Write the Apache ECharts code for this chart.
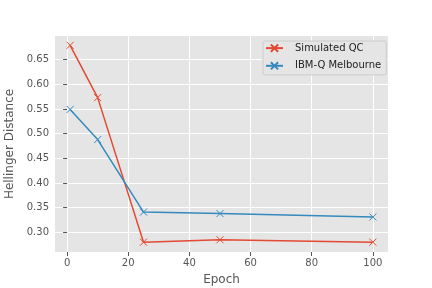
<!DOCTYPE html>
<html>
<head>
<meta charset="utf-8">
<script src="https://cdn.jsdelivr.net/npm/echarts@6/dist/echarts.min.js"></script>
<style>html,body{margin:0;padding:0;background:#fff}#c{width:432px;height:288px}</style>
</head>
<body>
<div id="c"></div>
<script>
const epochs = [1, 10, 25, 50, 100];
const simulatedQC = [0.679, 0.573, 0.280, 0.285, 0.280];
const ibmMelbourne = [0.549, 0.488, 0.341, 0.338, 0.331];
const xTicks = [0, 20, 40, 60, 80, 100];
const yTicks = [0.30, 0.35, 0.40, 0.45, 0.50, 0.55, 0.60, 0.65];

const red = '#E24A33', blue = '#348ABD';
const font = 'DejaVu Sans';
const xSym = 'path://M0,0L10,10M10,0L0,10';

const chart = echarts.init(document.getElementById('c'), null, {renderer: 'canvas'});
function mk(name, data, color) {
  return {
    name: name, type: 'line',
    data: epochs.map((e, i) => [e, data[i]]),
    symbol: xSym, symbolSize: 7,
    lineStyle: {color: color, width: 1.5},
    itemStyle: {color: 'none', borderColor: color, borderWidth: 1},
    emphasis: {disabled: true},
    animation: false
  };
}
chart.setOption({
  animation: false,
  backgroundColor: '#fff',
  grid: {left: 55, top: 36, right: 44, bottom: 36, show: true, backgroundColor: '#E5E5E5', borderWidth: 0,
    containLabel: false, outerBoundsMode: 'none'},
  legend: {
    orient: 'vertical', left: 263, top: 41,
    padding: [1, 5, 3, 2], itemGap: 5.5, itemWidth: 17, itemHeight: 9,
    backgroundColor: '#E5E5E5', borderColor: '#CCCCCC', borderWidth: 1, borderRadius: 2,
    textStyle: {fontFamily: font, fontSize: 10, color: '#222', padding: [0, 0, 0, 7]},
    data: ['Simulated QC', 'IBM-Q Melbourne']
  },
  xAxis: {
    type: 'value', min: -3.95, max: 104.95,
    name: 'Epoch', nameLocation: 'middle', nameGap: 22,
    nameTextStyle: {fontFamily: font, fontSize: 12, color: '#555'},
    axisLine: {show: false},
    axisTick: {show: true, length: 4, lineStyle: {color: '#555'}, customValues: xTicks},
    axisLabel: {customValues: xTicks, fontFamily: font, fontSize: 10, color: '#555', margin: 6},
    splitLine: {show: true, lineStyle: {color: '#fff', width: 1}}
  },
  yAxis: {
    type: 'value', min: 0.2601, max: 0.6979,
    name: 'Hellinger Distance', nameLocation: 'middle', nameGap: 34,
    nameTextStyle: {fontFamily: font, fontSize: 12, color: '#555'},
    axisLine: {show: false},
    axisTick: {show: true, length: 4, lineStyle: {color: '#555'}, customValues: yTicks},
    axisLabel: {customValues: yTicks, fontFamily: font, fontSize: 10, color: '#555', margin: 6,
      formatter: v => v.toFixed(2)},
    splitLine: {show: true, lineStyle: {color: '#fff', width: 1}}
  },
  series: [mk('Simulated QC', simulatedQC, red), mk('IBM-Q Melbourne', ibmMelbourne, blue)]
});
</script>
</body>
</html>
